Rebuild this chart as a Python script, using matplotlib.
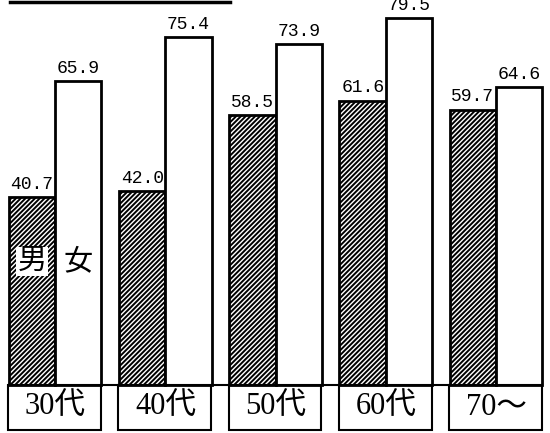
import matplotlib
matplotlib.use("Agg")
import matplotlib.pyplot as plt
from matplotlib.patches import Rectangle
from matplotlib.lines import Line2D
import numpy as np

plt.rcParams['hatch.linewidth'] = 1.4

age_labels = ["30代", "40代", "50代", "60代", "70～"]
male = [40.7, 42.0, 58.5, 61.6, 59.7]
female = [65.9, 75.4, 73.9, 79.5, 64.6]

cjk = ['Liberation Serif', 'Noto Sans CJK JP']

fig = plt.figure(figsize=(5.5, 4.33), dpi=100)
ax = fig.add_axes([0, 0, 1, 1])
ax.set_xlim(-0.5, 4.49)
ax.set_ylim(-10.4, 83.5)
ax.axis("off")

x = np.arange(len(age_labels))
w = 0.42
ax.bar(x - w / 2, male, w, facecolor="white", edgecolor="black",
       hatch="///////", linewidth=2, zorder=2)
ax.bar(x + w / 2, female, w, facecolor="white", edgecolor="black",
       linewidth=2, zorder=2)

# value labels
for xi, m, f in zip(x, male, female):
    ax.text(xi - w / 2, m + 1.0, f"{m:.1f}", ha="center", va="bottom",
            fontsize=13, family="Liberation Mono", zorder=3)
    ax.text(xi + w / 2, f + 1.0, f"{f:.1f}", ha="center", va="bottom",
            fontsize=13, family="Liberation Mono", zorder=3)

# category boxes under the bars
box_h = 9.8
for xi, lab in zip(x, age_labels):
    ax.add_patch(Rectangle((xi - w - 0.005, -box_h), 2 * w, box_h,
                           facecolor="white", edgecolor="black",
                           linewidth=1.5, zorder=1))
    ax.text(xi, -box_h / 2, lab, ha="center", va="center",
            fontsize=22, family=cjk, zorder=3)

ax.plot([x[0] - w, x[-1] + w], [0, 0], color="black", lw=1.5, zorder=2)

# legend labels inside first group
ax.text(x[0] - w / 2, 26.7, "男", ha="center", va="center", fontsize=21,
        family=cjk, zorder=4,
        bbox=dict(facecolor="white", edgecolor="none", pad=1))
ax.text(x[0] + w / 2, 26.7, "女", ha="center", va="center", fontsize=21,
        family=cjk, zorder=4)

# underline of the (cut off) title
fig.add_artist(Line2D([10 / 550, 230 / 550], [1 - 1.5 / 433, 1 - 1.5 / 433],
                      color="black", lw=2.5))

fig.savefig("out.png", dpi=100)
